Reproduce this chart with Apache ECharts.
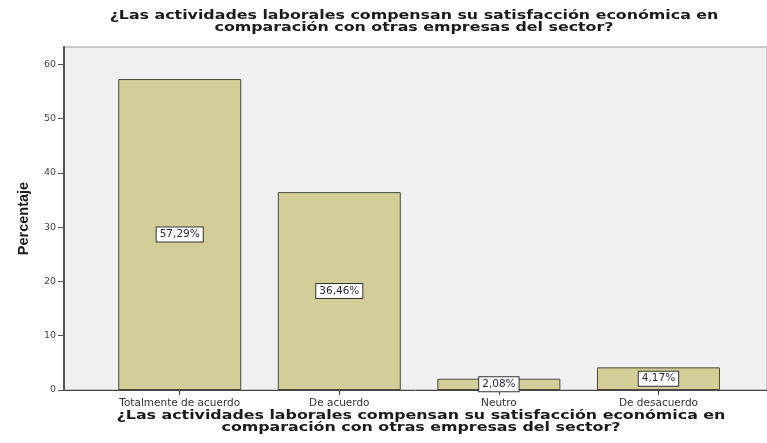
<!DOCTYPE html>
<html>
<head>
<meta charset="utf-8">
<script src="https://cdn.jsdelivr.net/npm/echarts@6/dist/echarts.min.js"></script>
<style>
  html, body { margin: 0; padding: 0; background: #ffffff; }
  #chart { width: 767px; height: 443px; }
</style>
</head>
<body>
<div id="chart"></div>
<script>
// Question and answer categories
const questionLines = [
  '¿Las actividades laborales compensan su satisfacción económica en',
  'comparación con otras empresas del sector?'
];
const categories = ['Totalmente de acuerdo', 'De acuerdo', 'Neutro', 'De desacuerdo'];
// Percentage of respondents per answer
const percentages = [57.29, 36.46, 2.08, 4.17];
// Value axis ticks
const yTicks = [0, 10, 20, 30, 40, 50, 60];

const positions = categories.map((_, i) => i);
const barData = percentages.map((v, i) => [positions[i], v]);
const fmtPct = v => v.toFixed(2).replace('.', ',') + '%';
const titleText = questionLines.join('\n');

// Wide bold heading, stretched horizontally around its centre
function heading(cx, top) {
  return {
    type: 'text',
    x: cx,
    y: top,
    scaleX: 1.32,
    style: {
      text: titleText,
      font: 'bold 12px "DejaVu Sans"',
      lineHeight: 12,
      textAlign: 'center',
      textVerticalAlign: 'top',
      fill: '#1a1a1a'
    }
  };
}

const chart = echarts.init(document.getElementById('chart'), null, { renderer: 'canvas' });
chart.setOption({
  animation: false,
  backgroundColor: '#ffffff',
  graphic: [heading(414, 10), heading(421, 410)],
  grid: {
    left: 64,
    right: -2,
    top: 47,
    bottom: 53,
    show: true,
    backgroundColor: '#f0f0f0',
    borderColor: '#9a9a9a',
    borderWidth: 1
  },
  xAxis: {
    type: 'value',
    min: -0.725,
    max: 3.68,
    splitLine: { show: false },
    axisLine: { show: true, onZero: false, lineStyle: { color: '#444', width: 1 } },
    axisTick: {
      show: true,
      customValues: positions,
      length: 5,
      inside: false,
      lineStyle: { color: '#444' }
    },
    axisLabel: {
      customValues: positions,
      formatter: v => categories[Math.round(v)] || '',
      fontFamily: 'DejaVu Sans',
      fontSize: 10.5,
      color: '#333',
      margin: 8
    }
  },
  yAxis: {
    type: 'value',
    min: 0,
    max: 63.2,
    interval: 10,
    name: 'Percentaje',
    nameLocation: 'middle',
    nameGap: 33,
    nameRotate: 90,
    nameTextStyle: {
      fontFamily: 'Liberation Sans',
      fontWeight: 'bold',
      fontSize: 14.5,
      color: '#1a1a1a'
    },
    splitLine: { show: false },
    axisLine: { show: true, onZero: false, lineStyle: { color: '#555', width: 2 } },
    axisTick: {
      show: true,
      length: 6,
      customValues: yTicks,
      lineStyle: { color: '#555' }
    },
    axisLabel: {
      customValues: yTicks,
      fontFamily: 'DejaVu Sans',
      fontSize: 9.5,
      color: '#444',
      margin: 8
    }
  },
  series: [{
    type: 'bar',
    data: barData,
    barWidth: 123,
    itemStyle: {
      color: '#d3ce97',
      borderColor: '#4a4a40',
      borderWidth: 1
    },
    label: {
      show: true,
      position: 'inside',
      formatter: p => fmtPct(p.value[1]),
      fontFamily: 'DejaVu Sans',
      fontSize: 10.5,
      color: '#2a2a45',
      backgroundColor: '#ffffff',
      borderColor: '#333333',
      borderWidth: 1,
      padding: [2, 3, 1, 3]
    }
  }]
});
</script>
</body>
</html>
